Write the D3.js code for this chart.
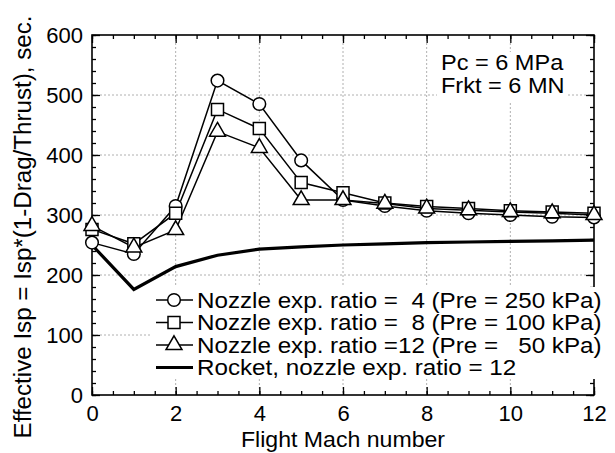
<!DOCTYPE html>
<html>
<head>
<meta charset="utf-8">
<script src="https://cdn.jsdelivr.net/npm/d3@7"></script>
<style>
  body { margin: 0; background: #fff; }
  text { font-family: "Liberation Sans", Arial, Helvetica, sans-serif; fill: #000; }
</style>
</head>
<body>
<div id="chart"></div>
<script>
'use strict';

// data
const mach = [0, 1, 2, 3, 4, 5, 6, 7, 8, 9, 10, 11, 12]
const ratio4 = [254, 235, 315, 524, 485, 391, 325, 315, 307, 303, 300, 297, 296]
const ratio8 = [276, 252, 303, 476, 444, 354, 337, 320, 314, 311, 307, 305, 303]
const ratio12 = [282, 246, 275, 439, 412, 325, 325, 319, 311, 308, 305, 303, 300]
const rocket = [250, 176, 214, 233, 243, 247, 250, 252, 254, 255, 256, 257, 258]

const xTicks = [0, 2, 4, 6, 8, 10, 12]
const yTicks = [0, 100, 200, 300, 400, 500, 600]
const legendLabels = [
  'Nozzle exp. ratio =  4 (Pre = 250 kPa)',
  'Nozzle exp. ratio =  8 (Pre = 100 kPa)',
  'Nozzle exp. ratio =12 (Pre =   50 kPa)',
  'Rocket, nozzle exp. ratio = 12'
]
const noteLines = ['Pc = 6 MPa', 'Frkt = 6 MN']

// dimensions
let dimensions = {
  width: 615,
  height: 453,
  margin: { top: 35, bottom: 58, left: 92, right: 21 }
}
dimensions.ctrWidth = dimensions.width - dimensions.margin.left - dimensions.margin.right
dimensions.ctrHeight = dimensions.height - dimensions.margin.top - dimensions.margin.bottom

// the original lettering is a touch wider than Liberation Sans
const stretch = 1.05

const svg = d3.select('#chart')
  .append('svg')
  .attr('width', dimensions.width)
  .attr('height', dimensions.height)

const chart_g = svg.append('g')
  .attr('transform', `translate(${dimensions.margin.left}, ${dimensions.margin.top})`)

const xScale = d3.scaleLinear().domain([0, 12]).range([0, dimensions.ctrWidth])
const yScale = d3.scaleLinear().domain([0, 600]).range([dimensions.ctrHeight, 0])

// dotted grid at the inner major ticks
const grid = chart_g.append('g')
  .attr('stroke', '#b0b0b0')
  .attr('stroke-width', 1)
  .attr('stroke-dasharray', '2,2')
grid.selectAll('.gx')
  .data(xTicks.slice(1, -1))
  .join('line')
  .attr('x1', d => xScale(d)).attr('x2', d => xScale(d))
  .attr('y1', 0).attr('y2', dimensions.ctrHeight)
grid.selectAll('.gy')
  .data(yTicks.slice(1, -1))
  .join('line')
  .attr('y1', d => yScale(d)).attr('y2', d => yScale(d))
  .attr('x1', 0).attr('x2', dimensions.ctrWidth)

// axes on all four sides, ticks pointing inward
const xMinor = d3.range(0, 12.01, 0.5)
const yMinor = d3.range(0, 601, 20)
function styleAxis(g){
  g.select('.domain').remove()
  g.selectAll('line').attr('stroke', '#000').attr('stroke-width', 1.3)
}
chart_g.append('g')
  .attr('transform', `translate(0, ${dimensions.ctrHeight})`)
  .call(d3.axisBottom(xScale).tickValues(xMinor).tickSize(-4).tickFormat(''))
  .call(styleAxis)
chart_g.append('g')
  .attr('transform', `translate(0, ${dimensions.ctrHeight})`)
  .call(d3.axisBottom(xScale).tickValues(xTicks).tickSize(-8).tickPadding(10).tickFormat(d3.format('d')))
  .call(styleAxis)
chart_g.append('g')
  .call(d3.axisTop(xScale).tickValues(xMinor).tickSize(-4).tickFormat(''))
  .call(styleAxis)
chart_g.append('g')
  .call(d3.axisTop(xScale).tickValues(xTicks).tickSize(-8).tickFormat(''))
  .call(styleAxis)
chart_g.append('g')
  .call(d3.axisLeft(yScale).tickValues(yMinor).tickSize(-4).tickFormat(''))
  .call(styleAxis)
chart_g.append('g')
  .call(d3.axisLeft(yScale).tickValues(yTicks).tickSize(-8).tickPadding(9).tickFormat(d3.format('d')))
  .call(styleAxis)
chart_g.append('g')
  .attr('transform', `translate(${dimensions.ctrWidth}, 0)`)
  .call(d3.axisRight(yScale).tickValues(yMinor).tickSize(-4).tickFormat(''))
  .call(styleAxis)
chart_g.append('g')
  .attr('transform', `translate(${dimensions.ctrWidth}, 0)`)
  .call(d3.axisRight(yScale).tickValues(yTicks).tickSize(-8).tickFormat(''))
  .call(styleAxis)

chart_g.selectAll('.tick text')
  .style('font-family', '"Liberation Sans", Arial, sans-serif')
  .style('font-size', '22px')
  .attr('fill', '#000')

// frame
chart_g.append('rect')
  .attr('width', dimensions.ctrWidth)
  .attr('height', dimensions.ctrHeight)
  .attr('fill', 'none')
  .attr('stroke', '#000')
  .attr('stroke-width', 1.6)

// series
const line = d3.line()
  .x((d, i) => xScale(mach[i]))
  .y(d => yScale(d))

const series = [
  { values: ratio4, symbol: d3.symbolCircle, size: 125 },
  { values: ratio8, symbol: d3.symbolSquare, size: 144 },
  { values: ratio12, symbol: d3.symbolTriangle, size: 110 }
]

chart_g.append('path')
  .datum(rocket)
  .attr('d', line)
  .attr('fill', 'none')
  .attr('stroke', '#000')
  .attr('stroke-width', 3.2)

series.forEach(s => {
  chart_g.append('path')
    .datum(s.values)
    .attr('d', line)
    .attr('fill', 'none')
    .attr('stroke', '#000')
    .attr('stroke-width', 1.5)
})
series.forEach(s => {
  chart_g.append('g')
    .selectAll('path')
    .data(s.values)
    .join('path')
    .attr('transform', (d, i) => `translate(${xScale(mach[i])}, ${yScale(d)})`)
    .attr('d', d3.symbol().type(s.symbol).size(s.size))
    .attr('fill', '#fff')
    .attr('stroke', '#000')
    .attr('stroke-width', 1.5)
})

// legend with a white backing
const legend = svg.append('g')
legend.append('rect')
  .attr('x', 150).attr('y', 287)
  .attr('width', 460).attr('height', 92)
  .attr('fill', '#fff')
const rowY = d => 300 + d * 22.5
const legendRows = legend.selectAll('g.row')
  .data(legendLabels)
  .join('g')
  .attr('transform', (d, i) => `translate(0, ${rowY(i)})`)
legendRows.append('line')
  .attr('x1', 156).attr('x2', 193)
  .attr('stroke', '#000')
  .attr('stroke-width', (d, i) => i === 3 ? 3.2 : 1.5)
legendRows.filter((d, i) => i < 3)
  .append('path')
  .attr('transform', 'translate(174, 0)')
  .attr('d', (d, i) => d3.symbol().type(series[i].symbol).size(series[i].size)())
  .attr('fill', '#fff')
  .attr('stroke', '#000')
  .attr('stroke-width', 1.5)
legendRows.append('text')
  .attr('transform', `translate(197, 0) scale(1.1, 1)`)
  .attr('dy', '0.35em')
  .style('font-size', '22px')
  .style('white-space', 'pre')
  .text(d => d)

// note in the upper right, on a white patch that hides the grid
const note = svg.append('g')
note.append('rect')
  .attr('x', 437).attr('y', 52)
  .attr('width', 130).attr('height', 49)
  .attr('fill', '#fff')
note.selectAll('text')
  .data(noteLines)
  .join('text')
  .attr('transform', (d, i) => `translate(441, ${70 + i * 23}) scale(${stretch + 0.02}, 1)`)
  .style('font-size', '22px')
  .text(d => d)

// axis titles
svg.append('text')
  .attr('transform', `translate(${dimensions.margin.left + dimensions.ctrWidth / 2}, 447) scale(${stretch}, 1)`)
  .attr('text-anchor', 'middle')
  .style('font-size', '22px')
  .text('Flight Mach number')

svg.append('text')
  .attr('transform', `translate(31, 227) rotate(-90) scale(${stretch}, 1)`)
  .attr('text-anchor', 'middle')
  .style('font-size', '23px')
  .text('Effective Isp = Isp*(1-Drag/Thrust), sec.')
</script>
</body>
</html>
